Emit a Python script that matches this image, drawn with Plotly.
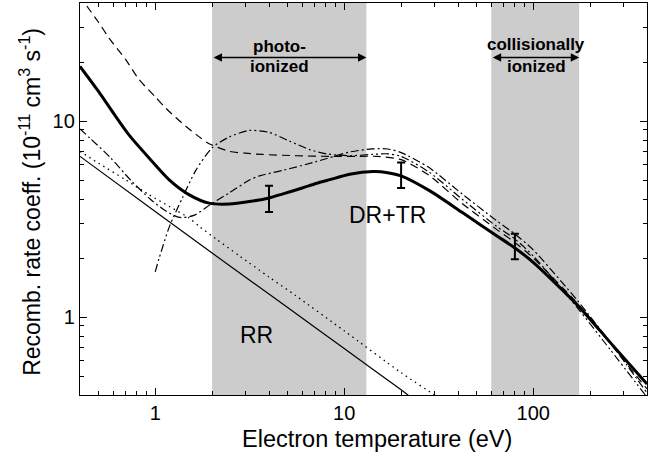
import math
import plotly.graph_objects as go

# ---- data (T in eV, rate coeff in 1e-11 cm^3 s^-1) ----
T_solid = [0.4, 0.5, 0.6, 0.728, 0.93, 1.186, 1.515, 1.93, 2.47, 3.15, 4.0, 4.74, 6.0,
           7.1, 8.4, 10.7, 14.2, 17, 20, 28.4, 42.4, 64, 80, 100, 173, 256, 400]
drtr_total = [19.0, 14.2, 11.0, 8.47, 6.46, 5.01, 4.2, 3.81, 3.77, 3.88, 4.05, 4.25, 4.55,
              4.8, 5.02, 5.35, 5.52, 5.45, 5.25, 4.4, 3.4, 2.6, 2.25, 1.9, 1.14, 0.74, 0.455]

T_dash = [0.4, 0.436, 0.5, 0.57, 0.7, 0.82, 1.0, 1.14, 1.45, 1.71, 1.93, 2.47, 3.0, 3.7, 5.6, 8.4,
          12, 15, 20, 28, 42, 64, 80, 100, 173, 256, 400]
dashed_vals = [44, 38.5, 32, 26.5, 20.5, 16.3, 13.3, 11.6, 9.4, 8.3, 7.65, 7.0, 6.85, 6.75, 6.65, 6.6,
               6.6, 6.6, 6.35, 5.3, 3.8, 2.8, 2.4, 2.0, 1.16, 0.73, 0.43]

T_dd = [0.4, 0.45, 0.58, 0.74, 0.94, 1.15, 1.35, 1.6, 2.0, 2.47, 3.15, 3.56, 4.74, 7.1, 10.7, 14,
        17, 20, 28, 42, 64, 80, 100, 173, 256, 400]
dashdot_vals = [9.1, 8.2, 6.5, 5.0, 4.0, 3.45, 3.22, 3.3, 3.8, 4.3, 5.0, 5.25, 5.6, 6.2, 6.95, 7.2,
                7.2, 6.9, 5.8, 4.25, 3.1, 2.65, 2.2, 1.2, 0.74, 0.41]

T_ddd = [1.0, 1.05, 1.19, 1.4, 1.64, 2.0, 2.47, 3.15, 4.0, 5.13, 6.56, 8.05, 10.7, 14, 17, 20,
         28, 42, 64, 80, 100, 173, 256, 400]
dashdotdot_vals = [1.7, 2.0, 2.9, 4.1, 5.6, 7.3, 8.3, 8.95, 8.75, 7.9, 7.15, 6.8, 6.65, 6.75, 6.8, 6.6,
                   5.5, 4.0, 2.9, 2.5, 2.05, 1.1, 0.68, 0.39]

T_dot = [0.4, 0.5, 0.7, 0.93, 1.19, 1.51, 1.71, 2.1, 2.79, 4.0, 5.57, 10, 20, 30, 35]
dotted_vals = [7.0, 6.1, 5.0, 4.2, 3.66, 3.2, 2.9, 2.5, 2.05, 1.6, 1.28, 0.85, 0.52, 0.4, 0.36]

T_rr = [0.4, 1, 2, 5, 10, 20, 25]
rr_vals = [6.6, 3.45, 2.12, 1.12, 0.69, 0.425, 0.36]

T_exp = [4, 20, 80]
exp_vals = [4.05, 5.3, 2.3]
exp_err_plus = [0.62, 0.84, 0.36]
exp_err_minus = [0.62, 0.75, 0.33]

photo_region = [2.0, 13.1]
coll_region = [60, 175]

x_tickvals = [1, 10, 100]
y_tickvals = [1, 10]
x_minor = [0.5, 0.6, 0.7, 0.8, 0.9, 2, 3, 4, 5, 6, 7, 8, 9, 20, 30, 40, 50, 60, 70, 80, 90, 200, 300]
y_minor = [0.5, 0.6, 0.7, 0.8, 0.9, 2, 3, 4, 5, 6, 7, 8, 9, 20, 30]

FONT = "Liberation Sans, Arial, sans-serif"
lg = math.log10

fig = go.Figure()

def add_line(x, y, width, dash):
    fig.add_trace(go.Scatter(x=x, y=y, mode="lines", showlegend=False,
                             line=dict(color="black", width=width, dash=dash, shape="spline", smoothing=0.7),
                             cliponaxis=True))

add_line(T_rr, rr_vals, 1.2, "solid")
add_line(T_dot, dotted_vals, 1.3, "1.5px,4px")
add_line(T_dash, dashed_vals, 1.2, "8px,5px")
add_line(T_dd, dashdot_vals, 1.2, "8px,3px,2px,3px")
add_line(T_ddd, dashdotdot_vals, 1.2, "8px,3px,2px,3px,2px,3px")
add_line(T_solid, drtr_total, 3, "solid")

fig.add_trace(go.Scatter(x=T_exp, y=exp_vals, mode="markers", showlegend=False,
                         marker=dict(size=1, color="black"),
                         error_y=dict(type="data", array=exp_err_plus, arrayminus=exp_err_minus,
                                      color="black", thickness=2, width=4)))

for reg in (photo_region, coll_region):
    fig.add_shape(type="rect", xref="x", yref="paper", x0=reg[0], x1=reg[1], y0=0, y1=1,
                  fillcolor="#cccccc", line=dict(width=0), layer="below")

arrow_y = lg(21.1)
for reg in (photo_region, coll_region):
    fig.add_annotation(x=lg(reg[1]), y=arrow_y, ax=lg(reg[0]), ay=arrow_y, xref="x", yref="y",
                       axref="x", ayref="y", showarrow=True, arrowside="end+start", arrowhead=2,
                       arrowsize=1.2, arrowwidth=1.4, arrowcolor="black", standoff=0, startstandoff=0,
                       text="")

def ypix(p):
    return (317.7 - p) / 196.7

bold = dict(family=FONT, size=17, color="black")
fig.add_annotation(x=lg(4.55), y=ypix(46.5), xref="x", yref="y", text="<b>photo-</b>",
                   showarrow=False, font=bold)
fig.add_annotation(x=lg(4.55), y=ypix(66), xref="x", yref="y", text="<b>ionized</b>",
                   showarrow=False, font=bold)
fig.add_annotation(x=lg(103.5), y=ypix(44), xref="x", yref="y", text="<b>collisionally</b>",
                   showarrow=False, font=bold)
fig.add_annotation(x=lg(103.5), y=ypix(66), xref="x", yref="y", text="<b>ionized</b>",
                   showarrow=False, font=bold)

fig.add_annotation(x=lg(3.43), y=lg(0.807), xref="x", yref="y", text="RR", showarrow=False,
                   font=dict(family=FONT, size=23, color="black"))
fig.add_annotation(x=lg(17.0), y=lg(3.33), xref="x", yref="y", text="DR+TR", showarrow=False,
                   font=dict(family=FONT, size=23, color="black"))

fig.add_annotation(x=0.524, y=-0.112, xref="paper", yref="paper", text="Electron temperature (eV)",
                   showarrow=False, font=dict(family=FONT, size=23.5, color="black"), yanchor="middle")
fig.add_annotation(x=-0.088, y=0.493, xref="paper", yref="paper",
                   text="Recomb. rate coeff. (10<sup>-11</sup> cm<sup>3</sup> s<sup>-1</sup>)",
                   textangle=-90, showarrow=False, font=dict(family=FONT, size=23, color="black"),
                   xanchor="center", yanchor="middle")

axis_common = dict(type="log", showgrid=False, zeroline=False, showline=True, linecolor="black",
                   linewidth=1.3, mirror="ticks", ticks="inside", ticklen=7, tickwidth=1.3,
                   tickcolor="black", tickfont=dict(family=FONT, size=20, color="black"))

fig.update_xaxes(range=[lg(0.4), lg(400)], tickvals=x_tickvals, ticktext=[str(v) for v in x_tickvals],
                 minor=dict(tickvals=x_minor, ticks="inside", ticklen=4, tickwidth=1.2, tickcolor="black",
                            showgrid=False),
                 **axis_common)
fig.update_yaxes(range=[lg(0.4), lg(40)], tickvals=y_tickvals, ticktext=[str(v) for v in y_tickvals],
                 minor=dict(tickvals=y_minor, ticks="inside", ticklen=4, tickwidth=1.2, tickcolor="black",
                            showgrid=False),
                 **axis_common)

fig.update_layout(width=661, height=459, margin=dict(l=80, r=14, t=3, b=64),
                  plot_bgcolor="white", paper_bgcolor="white", showlegend=False,
                  font=dict(family=FONT, color="black"))

fig.write_html("out.html")
